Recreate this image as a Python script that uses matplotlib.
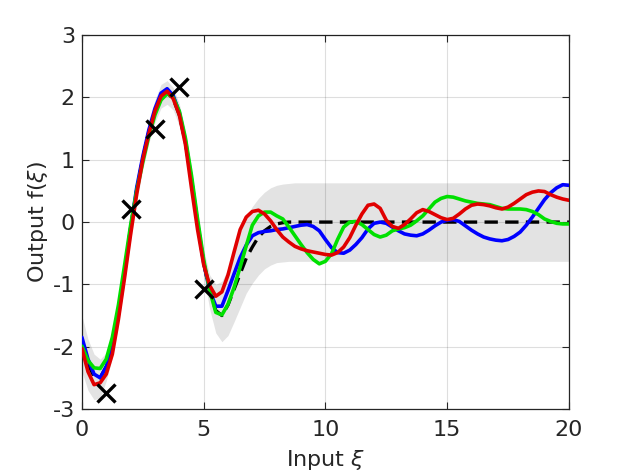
import numpy as np
import matplotlib
matplotlib.use('Agg')
import matplotlib.pyplot as plt

plt.rcParams['axes.unicode_minus'] = False

# sample grid (0 .. 20 step 0.25)
x_grid = np.linspace(0, 20, 81)

sample_blue = [
    -1.85, -2.20, -2.44, -2.50, -2.32, -1.98, -1.48, -0.82, -0.10, 0.55,
    1.05, 1.48, 1.82, 2.07, 2.14, 2.03, 1.76, 1.30, 0.68, -0.02,
    -0.65, -1.10, -1.35, -1.35, -1.10, -0.83, -0.57, -0.37, -0.22, -0.17,
    -0.15, -0.14, -0.12, -0.11, -0.09, -0.07, -0.05, -0.04, -0.07, -0.14,
    -0.28, -0.41, -0.49, -0.50, -0.45, -0.36, -0.25, -0.11, -0.02, 0.00,
    -0.02, -0.08, -0.14, -0.19, -0.21, -0.22, -0.19, -0.13, -0.06, 0.00,
    0.03, 0.04, 0.01, -0.06, -0.13, -0.19, -0.24, -0.27, -0.29, -0.30,
    -0.28, -0.23, -0.16, -0.05, 0.08, 0.22, 0.36, 0.47, 0.55, 0.60,
    0.59]

sample_green = [
    -1.99, -2.22, -2.34, -2.35, -2.20, -1.85, -1.33, -0.70, -0.05, 0.50,
    0.96, 1.38, 1.72, 1.96, 2.06, 2.00, 1.78, 1.35, 0.75, 0.05,
    -0.60, -1.10, -1.45, -1.49, -1.32, -1.05, -0.72, -0.38, -0.05, 0.10,
    0.16, 0.16, 0.10, 0.05, -0.08, -0.22, -0.36, -0.49, -0.60, -0.67,
    -0.63, -0.51, -0.28, -0.08, 0.00, 0.01, -0.04, -0.12, -0.20, -0.24,
    -0.21, -0.14, -0.11, -0.09, -0.05, 0.02, 0.10, 0.21, 0.32, 0.38,
    0.41, 0.40, 0.37, 0.34, 0.32, 0.30, 0.29, 0.28, 0.25, 0.22,
    0.21, 0.21, 0.21, 0.20, 0.17, 0.12, 0.05, 0.01, -0.02, -0.03,
    -0.03]

sample_red = [
    -2.03, -2.40, -2.61, -2.58, -2.44, -2.12, -1.56, -0.90, -0.20, 0.45,
    1.00, 1.42, 1.78, 2.02, 2.10, 1.98, 1.72, 1.25, 0.55, -0.12,
    -0.68, -1.02, -1.19, -1.12, -0.85, -0.48, -0.12, 0.08, 0.17, 0.19,
    0.13, 0.02, -0.12, -0.24, -0.32, -0.39, -0.43, -0.46, -0.48, -0.50,
    -0.52, -0.53, -0.49, -0.40, -0.25, -0.05, 0.13, 0.27, 0.29, 0.22,
    0.03, -0.07, -0.10, -0.04, 0.05, 0.15, 0.20, 0.17, 0.12, 0.07,
    0.04, 0.06, 0.13, 0.21, 0.27, 0.29, 0.28, 0.26, 0.23, 0.21,
    0.24, 0.30, 0.37, 0.44, 0.48, 0.50, 0.49, 0.44, 0.40, 0.37,
    0.35]

post_mean = [
    -1.95, -2.28, -2.48, -2.50, -2.32, -1.96, -1.45, -0.80, -0.10, 0.52,
    1.02, 1.45, 1.78, 2.02, 2.08, 1.98, 1.72, 1.28, 0.68, -0.02,
    -0.65, -1.12, -1.42, -1.50, -1.33, -1.08, -0.83, -0.58, -0.40, -0.24,
    -0.14, -0.07, -0.03, -0.01, 0.00, 0.00, 0.00, 0.00, 0.00, 0.00,
    0.00, 0.00, 0.00, 0.00, 0.00, 0.00, 0.00, 0.00, 0.00, 0.00,
    0.00, 0.00, 0.00, 0.00, 0.00, 0.00, 0.00, 0.00, 0.00, 0.00,
    0.00, 0.00, 0.00, 0.00, 0.00, 0.00, 0.00, 0.00, 0.00, 0.00,
    0.00, 0.00, 0.00, 0.00, 0.00, 0.00, 0.00, 0.00, 0.00, 0.00,
    0.00]

band_lo = [
    -2.40, -2.70, -2.85, -2.82, -2.55, -2.17, -1.65, -1.00, -0.30, 0.33,
    0.84, 1.27, 1.60, 1.83, 1.89, 1.80, 1.54, 1.09, 0.48, -0.22,
    -0.86, -1.40, -1.78, -1.92, -1.82, -1.60, -1.37, -1.14, -0.98, -0.85,
    -0.75, -0.69, -0.65, -0.64, -0.63, -0.63, -0.63, -0.63, -0.63, -0.63,
    -0.63, -0.63, -0.63, -0.63, -0.63, -0.63, -0.63, -0.63, -0.63, -0.63,
    -0.63, -0.63, -0.63, -0.63, -0.63, -0.63, -0.63, -0.63, -0.63, -0.63,
    -0.63, -0.63, -0.63, -0.63, -0.63, -0.63, -0.63, -0.63, -0.63, -0.63,
    -0.63, -0.63, -0.63, -0.63, -0.63, -0.63, -0.63, -0.63, -0.63, -0.63,
    -0.63]

band_hi = [
    -1.50, -1.88, -2.12, -2.20, -2.10, -1.76, -1.25, -0.60, 0.10, 0.71,
    1.20, 1.63, 1.96, 2.21, 2.27, 2.16, 1.90, 1.47, 0.88, 0.18,
    -0.44, -0.85, -1.00, -0.95, -0.75, -0.45, -0.15, 0.08, 0.25, 0.38,
    0.48, 0.55, 0.59, 0.61, 0.62, 0.63, 0.63, 0.63, 0.63, 0.63,
    0.63, 0.63, 0.63, 0.63, 0.63, 0.63, 0.63, 0.63, 0.63, 0.63,
    0.63, 0.63, 0.63, 0.63, 0.63, 0.63, 0.63, 0.63, 0.63, 0.63,
    0.63, 0.63, 0.63, 0.63, 0.63, 0.63, 0.63, 0.63, 0.63, 0.63,
    0.63, 0.63, 0.63, 0.63, 0.63, 0.63, 0.63, 0.63, 0.63, 0.63,
    0.63]

obs_x = [1, 2, 3, 4, 5]
obs_y = [-2.75, 0.21, 1.49, 2.17, -1.07]

x_ticks = [0, 5, 10, 15, 20]
y_ticks = [-3, -2, -1, 0, 1, 2, 3]

txt = '#262626'
fig = plt.figure(figsize=(6.3, 4.72), dpi=100)
ax = fig.add_axes([0.130, 0.1335, 0.773, 0.792])

ax.fill_between(x_grid, band_lo, band_hi, color='#e3e3e3', lw=0, zorder=1)
ax.plot(x_grid, post_mean, color='k', lw=2.4, dashes=(4, 2.2), zorder=3)
line_kw = dict(lw=2.6, solid_joinstyle='round', solid_capstyle='round')
ax.plot(x_grid, sample_blue, color='#0000ff', zorder=4, **line_kw)
ax.plot(x_grid, sample_green, color='#00e000', zorder=4.1, **line_kw)
ax.plot(x_grid, sample_red, color='#e00000', zorder=4.2, **line_kw)
ax.plot(obs_x, obs_y, 'x', color='k', ms=13, mew=2.4, zorder=5)

ax.set_xlim(0, 20)
ax.set_ylim(-3, 3)
ax.set_xticks(x_ticks)
ax.set_yticks(y_ticks)
ax.set_axisbelow(False)
ax.grid(True, color='k', alpha=0.13, lw=0.8)
ax.tick_params(direction='in', top=True, right=True, length=5, width=0.8,
               labelsize=16, colors=txt, pad=5)
ax.tick_params(axis='x', pad=8)
for s in ax.spines.values():
    s.set_color(txt)
    s.set_linewidth(0.9)
ax.set_xlabel('Input $\\xi$', fontsize=16, color=txt, labelpad=6)
ax.set_ylabel('Output f($\\xi$)', fontsize=16, color=txt, labelpad=2)

fig.savefig('out.png', dpi=100)
